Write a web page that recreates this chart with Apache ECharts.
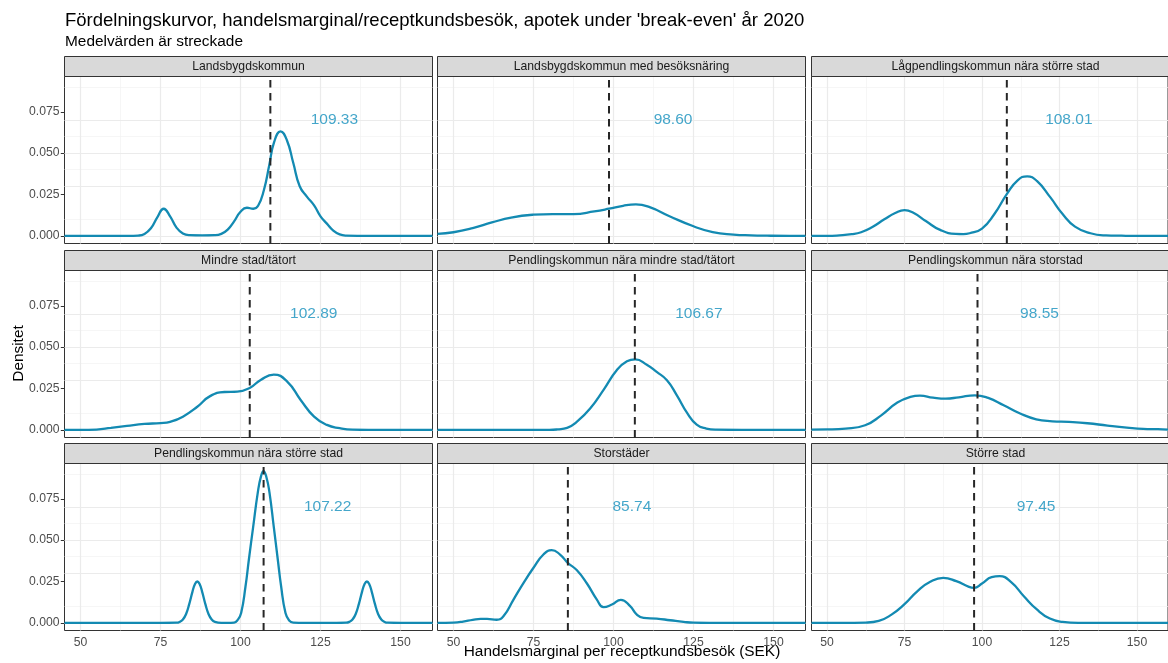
<!DOCTYPE html>
<html>
<head>
<meta charset="utf-8">
<script src="https://cdn.jsdelivr.net/npm/echarts@6/dist/echarts.min.js"></script>
<style>
  html, body { margin: 0; padding: 0; background: #ffffff; }
  #chart { width: 1168px; height: 663px; }
</style>
</head>
<body>
<div id="chart"></div>
<script>
// ---- Texts -------------------------------------------------------------
const titleText = "Fördelningskurvor, handelsmarginal/receptkundsbesök, apotek under 'break-even' år 2020";
const subtitleText = "Medelvärden är streckade";
const xTitle = "Handelsmarginal per receptkundsbesök (SEK)";
const yTitle = "Densitet";

// ---- Facets (row by row) -----------------------------------------------
const panelNames = [
  "Landsbygdskommun",
  "Landsbygdskommun med besöksnäring",
  "Lågpendlingskommun nära större stad",
  "Mindre stad/tätort",
  "Pendlingskommun nära mindre stad/tätort",
  "Pendlingskommun nära storstad",
  "Pendlingskommun nära större stad",
  "Storstäder",
  "Större stad"
];
const meanValues = [109.33, 98.60, 108.01, 102.89, 106.67, 98.55, 107.22, 85.74, 97.45];

// ---- Axis ticks ----------------------------------------------------------
const xTicks = [50, 75, 100, 125, 150];
const xMinorTicks = [62.5, 87.5, 112.5, 137.5];
const yTicks = [0, 0.025, 0.05, 0.075];
const yMinorTicks = [0.0125, 0.0375, 0.0625, 0.0875];

// ---- Density curves (SEK, density) ---------------------------------------
const landsbygdX = [45, 55, 65, 68, 70, 72, 74, 76, 78, 80, 82, 84, 88, 92, 94, 96, 98, 100, 102, 104, 105.5, 107.3, 109, 110.5, 112.5, 114.5, 116.5, 118.5, 120.8, 123, 125, 127, 129, 131, 133, 140, 150, 160];
const landsbygdY = [0, 0, 0, 0.0002, 0.0012, 0.0046, 0.0112, 0.0164, 0.0118, 0.0050, 0.0014, 0.0004, 0.0003, 0.0004, 0.0012, 0.0038, 0.0088, 0.0146, 0.0170, 0.0164, 0.0182, 0.0276, 0.0428, 0.0566, 0.0632, 0.0578, 0.0440, 0.0300, 0.0236, 0.0184, 0.0118, 0.0074, 0.0032, 0.0009, 0.0002, 0, 0, 0];

const besoksX = [45, 50, 56, 62, 68, 75, 81, 87.5, 94, 98.6, 103, 107, 111.5, 117.5, 125, 131, 137.5, 143, 148, 155, 160];
const besoksY = [0.0012, 0.0022, 0.0047, 0.0081, 0.0111, 0.0128, 0.0132, 0.0132, 0.0148, 0.0164, 0.0182, 0.0190, 0.0172, 0.0119, 0.0058, 0.0023, 0.0008, 0.0003, 0.0001, 0, 0];

const lagpendlingX = [45, 50, 54, 58, 61, 64.5, 68.5, 72, 75, 78, 82, 86.5, 91.5, 94, 96, 100, 104, 108, 111.5, 114.6, 117.7, 122, 126, 130, 135, 140, 145, 150, 160];
const lagpendlingY = [0, 0, 0.0003, 0.0010, 0.0022, 0.0052, 0.0100, 0.0138, 0.0156, 0.0138, 0.0088, 0.0036, 0.0012, 0.0011, 0.0016, 0.0044, 0.0132, 0.0252, 0.0336, 0.0360, 0.0332, 0.0234, 0.0132, 0.0056, 0.0016, 0.0003, 0.0001, 0, 0];

const mindreStadX = [45, 50, 55, 59.5, 64.5, 70, 75, 78, 82, 86.5, 90.5, 95, 99, 103, 106.3, 110.4, 114.6, 118.8, 123, 127, 131, 135, 140, 150, 160];
const mindreStadY = [0, 0, 0.0002, 0.0012, 0.0024, 0.0036, 0.0041, 0.0049, 0.0080, 0.0140, 0.0204, 0.0229, 0.0231, 0.0255, 0.0302, 0.0334, 0.0292, 0.0181, 0.0080, 0.0030, 0.0010, 0.0001, 0, 0, 0];

const pendMindreX = [45, 60, 75, 80, 82.5, 85.5, 88.5, 92.7, 97, 101, 104.2, 106.8, 110.4, 113.5, 116.7, 119.8, 123, 126, 129, 132, 140, 150, 160];
const pendMindreY = [0, 0, 0, 0, 0.0003, 0.0012, 0.0048, 0.0129, 0.0245, 0.0360, 0.0414, 0.0426, 0.0394, 0.0350, 0.0300, 0.0209, 0.0103, 0.0032, 0.0008, 0.0001, 0, 0, 0];

const pendStorstadX = [45, 50, 56, 62.3, 67.5, 72.7, 76.9, 80, 84.2, 88.3, 92.5, 97.7, 102, 107, 112.3, 117.5, 122.7, 128, 134, 140.5, 146.7, 152, 156.7, 160];
const pendStorstadY = [0.0002, 0.0003, 0.0008, 0.0028, 0.0088, 0.0165, 0.0199, 0.0207, 0.0195, 0.0189, 0.0197, 0.0209, 0.0193, 0.0149, 0.0099, 0.0064, 0.0052, 0.0048, 0.0040, 0.0026, 0.0014, 0.0006, 0.0004, 0.0002];

const pendStorreX = [45, 60, 75, 80, 81, 82, 83, 84, 85, 85.75, 86.5, 87.25, 88, 89, 90, 91, 92, 94, 96, 98, 99, 100.2, 101.56, 102.6, 103.96, 105.4, 106.4, 107.2, 108.1, 109.06, 110.4, 111.67, 112.7, 114.06, 115.2, 116.5, 120, 130, 133, 134, 135, 136, 137, 138, 138.75, 139.5, 140.25, 141, 142, 143, 144, 145, 146, 150, 160];
const pendStorreY = [0, 0, 0, 0.0001, 0.0006, 0.0020, 0.0054, 0.0115, 0.0189, 0.0233, 0.0250, 0.0233, 0.0189, 0.0115, 0.0054, 0.0020, 0.0006, 0, 0, 0.0002, 0.0015, 0.0060, 0.0220, 0.0380, 0.0580, 0.0787, 0.0885, 0.0917, 0.0880, 0.0787, 0.0580, 0.0380, 0.0220, 0.0060, 0.0015, 0.0002, 0, 0, 0.0001, 0.0006, 0.0020, 0.0054, 0.0115, 0.0189, 0.0233, 0.0250, 0.0233, 0.0189, 0.0115, 0.0054, 0.0020, 0.0006, 0.0001, 0, 0];

const storstaderX = [45, 50, 53, 56, 58.5, 60.5, 63.5, 65.6, 68.75, 71.9, 75, 78.1, 80.7, 83.3, 85.7, 88.5, 91.7, 94.8, 96.9, 99.5, 102.3, 105.2, 107.3, 109.4, 113.5, 117.7, 121.9, 125, 130, 140, 160];
const storstaderY = [0, 0.0002, 0.0008, 0.0018, 0.0024, 0.0024, 0.0019, 0.0040, 0.0141, 0.0242, 0.0333, 0.0413, 0.0440, 0.0413, 0.0363, 0.0319, 0.0238, 0.0141, 0.0095, 0.0111, 0.0139, 0.0101, 0.0050, 0.0030, 0.0026, 0.0016, 0.0006, 0.0001, 0, 0, 0];

const storreStadX = [45, 55, 62.5, 66.7, 70.8, 75, 79.2, 83.3, 87.5, 91.7, 95.8, 97.4, 100, 103.1, 105.7, 109.4, 113.5, 117.7, 121.9, 126, 131, 140, 160];
const storreStadY = [0, 0, 0.0002, 0.0012, 0.0050, 0.0113, 0.0192, 0.0248, 0.0272, 0.0252, 0.0218, 0.0212, 0.0238, 0.0276, 0.0282, 0.0246, 0.0161, 0.0081, 0.0026, 0.0006, 0, 0, 0];

const curveX = [landsbygdX, besoksX, lagpendlingX, mindreStadX, pendMindreX, pendStorstadX, pendStorreX, storstaderX, storreStadX];
const curveY = [landsbygdY, besoksY, lagpendlingY, mindreStadY, pendMindreY, pendStorstadY, pendStorreY, storstaderY, storreStadY];

// ---- Layout & style ------------------------------------------------------
const FONT = '"Liberation Sans", Arial, Helvetica, sans-serif';
const CURVE = '#138ab2';
const LABEL = '#1590bd';
const colLeft = [64.5, 437.5, 811.5];
const rowTop = [76.5, 270.5, 463.5];
const panelW = 368, panelH = 167, stripH = 20;
const xRange = [45, 160];
const yRange = [-0.0046, 0.0963];
const labelOffset = 20, labelY = 0.07;
const smallFont = 12.2;

const grids = [], xAxes = [], yAxes = [], series = [], graphics = [];

panelNames.forEach((name, i) => {
  const r = Math.floor(i / 3), c = i % 3;
  const left = colLeft[c], top = rowTop[r];
  grids.push({
    left: left, top: top, width: panelW, height: panelH,
    show: true, backgroundColor: '#ffffff', borderColor: '#333333', borderWidth: 1,
    containLabel: false
  });
  xAxes.push({
    gridIndex: i, type: 'value', min: xRange[0], max: xRange[1],
    axisLine: { show: false },
    splitLine: { show: false },
    axisTick: { show: r === 2, length: 3.7, customValues: xTicks, lineStyle: { color: '#333333', width: 1 } },
    axisLabel: { show: r === 2, customValues: xTicks, margin: 6, color: '#4d4d4d', fontSize: smallFont, fontFamily: FONT }
  });
  yAxes.push({
    gridIndex: i, type: 'value', min: yRange[0], max: yRange[1],
    axisLine: { show: false },
    splitLine: { show: false },
    axisTick: { show: c === 0, length: 3.7, customValues: yTicks, lineStyle: { color: '#333333', width: 1 } },
    axisLabel: { show: c === 0, customValues: yTicks, margin: 5, color: '#4d4d4d', fontSize: smallFont, fontFamily: FONT,
                 formatter: v => v.toFixed(3) }
  });

  // panel gridlines (major + minor)
  const gl = [];
  xMinorTicks.forEach(v => gl.push({ xAxis: v, lineStyle: { color: '#f2f2f2', width: 0.7, type: 'solid' } }));
  yMinorTicks.forEach(v => gl.push({ yAxis: v, lineStyle: { color: '#f2f2f2', width: 0.7, type: 'solid' } }));
  xTicks.forEach(v => gl.push({ xAxis: v, lineStyle: { color: '#ebebeb', width: 1.2, type: 'solid' } }));
  yTicks.forEach(v => gl.push({ yAxis: v, lineStyle: { color: '#ebebeb', width: 1.2, type: 'solid' } }));

  // density curve
  series.push({
    type: 'line', xAxisIndex: i, yAxisIndex: i,
    data: curveX[i].map((x, k) => [x, curveY[i][k]]),
    showSymbol: false, symbol: 'none', smooth: 0.5,
    lineStyle: { color: CURVE, width: 2.3 }, z: 2, silent: true,
    markLine: { silent: true, symbol: ['none', 'none'], label: { show: false }, z: 1, animation: false, data: gl }
  });
  // dashed mean line
  series.push({
    type: 'line', xAxisIndex: i, yAxisIndex: i,
    data: [[meanValues[i], yRange[0]], [meanValues[i], yRange[1]]],
    showSymbol: false, symbol: 'none', silent: true, z: 3,
    lineStyle: { color: '#262626', width: 2, type: [7.5, 5.5], cap: 'butt' }
  });
  // mean value label
  series.push({
    type: 'scatter', xAxisIndex: i, yAxisIndex: i,
    data: [[meanValues[i] + labelOffset, labelY]],
    symbolSize: 1, itemStyle: { color: 'rgba(0,0,0,0)' }, silent: true, z: 4,
    label: { show: true, position: 'inside', formatter: () => meanValues[i].toFixed(2),
             color: LABEL, fontSize: 15.5, fontFamily: FONT }
  });

  // facet strip
  graphics.push({
    type: 'rect', silent: true, z: 10,
    shape: { x: left, y: top - stripH, width: panelW, height: stripH },
    style: { fill: '#d9d9d9', stroke: '#333333', lineWidth: 1 }
  });
  graphics.push({
    type: 'text', silent: true, z: 11,
    x: left + panelW / 2, y: top - stripH / 2,
    style: { text: name, fill: '#1a1a1a', fontSize: smallFont, fontFamily: FONT, align: 'center', verticalAlign: 'middle' }
  });
});

// titles
graphics.push({
  type: 'text', silent: true, x: 65, y: 21,
  style: { text: titleText, fill: '#000000', fontSize: 18.5, fontFamily: FONT, align: 'left', verticalAlign: 'middle' }
});
graphics.push({
  type: 'text', silent: true, x: 65, y: 42,
  style: { text: subtitleText, fill: '#000000', fontSize: 15.4, fontFamily: FONT, align: 'left', verticalAlign: 'middle' }
});
graphics.push({
  type: 'text', silent: true, x: (colLeft[0] + colLeft[2] + panelW) / 2, y: 652,
  style: { text: xTitle, fill: '#000000', fontSize: 15.4, fontFamily: FONT, align: 'center', verticalAlign: 'middle' }
});
graphics.push({
  type: 'text', silent: true, x: 18.5, y: (rowTop[0] + rowTop[2] + panelH) / 2, rotation: Math.PI / 2,
  style: { text: yTitle, fill: '#000000', fontSize: 15.4, fontFamily: FONT, align: 'center', verticalAlign: 'middle' }
});

const chart = echarts.init(document.getElementById('chart'), null, { renderer: 'canvas' });
chart.setOption({
  animation: false,
  backgroundColor: '#ffffff',
  grid: grids,
  xAxis: xAxes,
  yAxis: yAxes,
  series: series,
  graphic: { elements: graphics }
});
</script>
</body>
</html>
